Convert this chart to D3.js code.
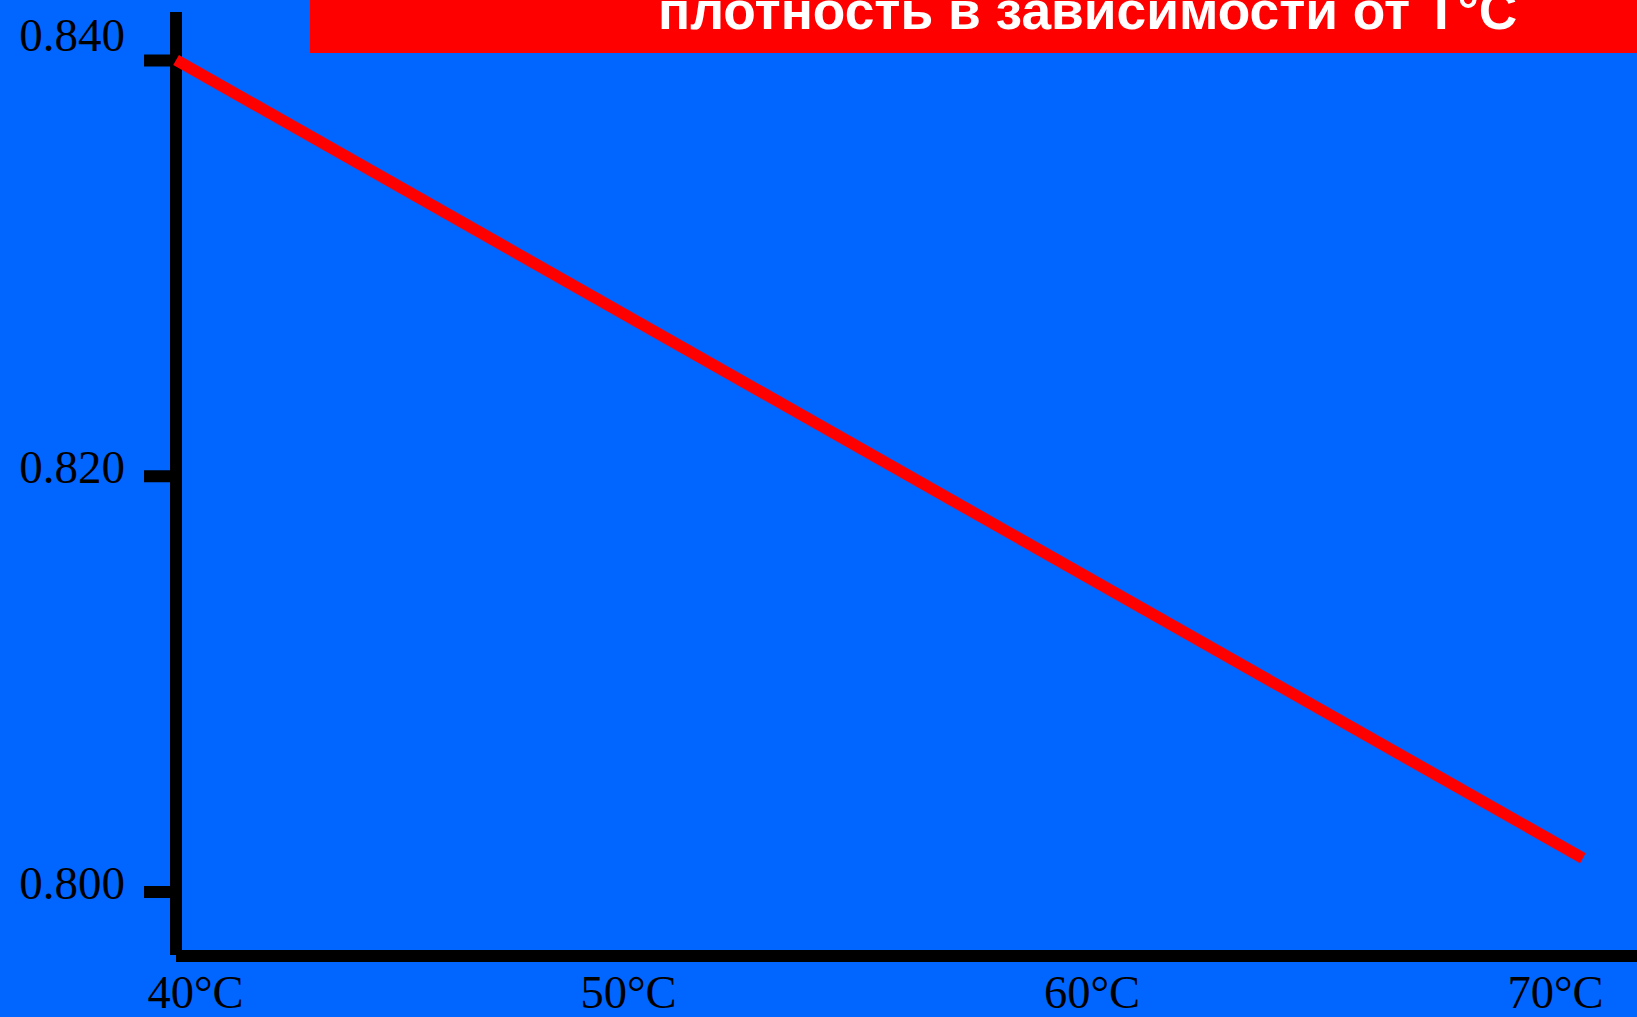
<!DOCTYPE html>
<html>
<head>
<meta charset="utf-8">
<script src="https://cdn.jsdelivr.net/npm/d3@7"></script>
<style>
  html, body { margin: 0; padding: 0; background: #0066ff; overflow: hidden; }
  svg { display: block; }
</style>
</head>
<body>
<script>
// Density of fuel versus temperature
const temperatures = [40.25, 70.6];
const densities = [0.840, 0.8016];
const xTicks = [40, 50, 60, 70];
const yTicks = [0.800, 0.820, 0.840];
const titleText = "плотность в зависимости от T°C";

const W = 1637, H = 1017;
const svg = d3.select("body").append("svg")
  .attr("width", W).attr("height", H);

svg.append("rect").attr("width", W).attr("height", H).attr("fill", "#0066ff");

const x = d3.scaleLinear().domain([40, 70]).range([164.5, 1555]);
const y = d3.scaleLinear().domain([0.800, 0.840]).range([891.5, 60]);

const axisX = 176, axisY = 956;

// Title banner
svg.append("rect")
  .attr("x", 310).attr("y", 0).attr("width", W - 310).attr("height", 53)
  .attr("fill", "#ff0000");
svg.append("text")
  .attr("x", 658).attr("y", 29)
  .attr("fill", "#ffffff")
  .attr("font-family", "'Liberation Sans', Arial, sans-serif")
  .attr("font-weight", "bold")
  .attr("font-size", 53.3)
  .text(titleText);

// Y axis
const gy = svg.append("g")
  .attr("transform", `translate(${axisX - 6},0)`)
  .call(d3.axisLeft(y).tickValues(yTicks).tickFormat(d3.format(".3f"))
    .tickSize(26).tickSizeOuter(0).tickPadding(19));
gy.select(".domain").remove();
gy.selectAll(".tick line").attr("stroke", "#000").attr("stroke-width", 12);
gy.selectAll(".tick text")
  .attr("fill", "#000")
  .attr("font-family", "'Liberation Serif', 'Times New Roman', serif")
  .attr("font-size", 47)
  .attr("dy", d => d === 0.840 ? "-10px" : "6.5px");

svg.append("line")
  .attr("x1", axisX).attr("x2", axisX)
  .attr("y1", 12).attr("y2", 955)
  .attr("stroke", "#000").attr("stroke-width", 12);

// X axis
const gx = svg.append("g")
  .attr("transform", `translate(0,${axisY})`)
  .call(d3.axisBottom(x).tickValues(xTicks).tickFormat(d => d + "°C")
    .tickSize(0).tickSizeOuter(0));
gx.select(".domain").remove();
gx.selectAll(".tick text")
  .attr("fill", "#000")
  .attr("font-family", "'Liberation Serif', 'Times New Roman', serif")
  .attr("font-size", 46.5)
  .attr("y", 52).attr("dy", 0)
  .attr("dx", d => d === 40 ? 30.5 : 0);

svg.append("line")
  .attr("x1", axisX).attr("x2", W)
  .attr("y1", axisY).attr("y2", axisY)
  .attr("stroke", "#000").attr("stroke-width", 12);

// Density line
const pts = temperatures.map((t, i) => [t, densities[i]]);
svg.append("path")
  .datum(pts)
  .attr("d", d3.line().x(d => x(d[0])).y(d => y(d[1])))
  .attr("fill", "none")
  .attr("stroke", "#ff0000")
  .attr("stroke-width", 11.5)
  .attr("stroke-linecap", "butt");
</script>
</body>
</html>
